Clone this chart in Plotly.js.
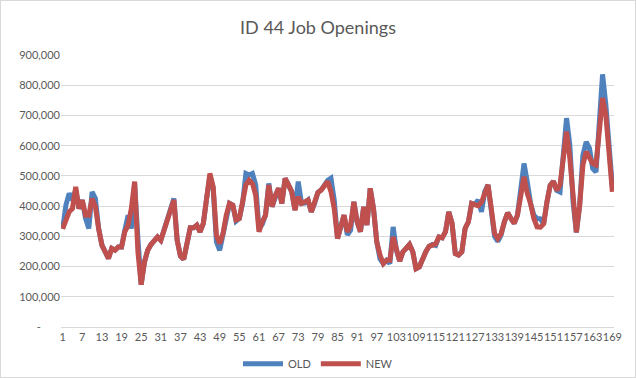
<!DOCTYPE html>
<html>
<head>
<meta charset="utf-8">
<script src="https://cdn.plot.ly/plotly-3.0.1.min.js"></script>
<style>
html,body{margin:0;padding:0;background:#fff;}
#chart{width:634px;height:376px;border:1px solid #d9d9d9;}
</style>
</head>
<body>
<div id="chart"></div>
<script>
const periods = Array.from({length: 169}, (_, i) => i + 1);

const newValues = [
325000,359000,381000,392000,464000,392000,420000,370000,370000,425000,
398000,326000,271000,249000,227000,260000,254000,265000,265000,315000,
337000,392000,481000,249000,140000,215000,254000,273000,287000,298000,
287000,320000,354000,398000,420000,287000,235000,224000,282000,328000,
328000,337000,315000,343000,425000,508000,464000,304000,276000,309000,
370000,409000,403000,354000,359000,409000,470000,486000,475000,436000,
315000,348000,370000,470000,398000,436000,459000,409000,492000,470000,
448000,387000,431000,409000,414000,420000,381000,409000,445000,453000,
470000,481000,448000,392000,293000,326000,370000,315000,337000,414000,
348000,315000,398000,337000,459000,392000,282000,238000,210000,221000,
221000,298000,254000,218000,249000,260000,273000,249000,193000,199000,
227000,249000,267000,273000,275000,298000,295000,315000,381000,343000,
243000,238000,249000,326000,348000,409000,406000,401000,412000,448000,
470000,392000,309000,293000,309000,348000,378000,359000,343000,370000,
436000,497000,442000,409000,359000,331000,330000,341000,413000,469000,
482000,452000,469000,558000,647000,558000,413000,313000,402000,536000,
580000,558000,541000,536000,636000,758000,702000,558000,447000
];

const oldValues = [
325000,403000,442000,420000,453000,392000,420000,359000,326000,447000,
425000,326000,271000,249000,227000,260000,254000,265000,265000,320000,
370000,326000,475000,293000,140000,215000,254000,273000,287000,298000,
287000,320000,354000,398000,425000,287000,235000,224000,282000,328000,
328000,337000,315000,343000,425000,500000,460000,282000,254000,309000,
370000,409000,403000,350000,359000,409000,508000,503000,508000,470000,
325000,340000,370000,475000,398000,436000,459000,409000,492000,470000,
448000,387000,481000,409000,410000,420000,381000,409000,445000,453000,
470000,485000,492000,420000,293000,326000,370000,305000,320000,414000,
348000,315000,398000,337000,459000,392000,282000,225000,210000,221000,
210000,331000,254000,218000,249000,260000,273000,249000,193000,199000,
227000,249000,267000,273000,270000,298000,295000,315000,381000,343000,
243000,238000,249000,326000,348000,409000,406000,420000,381000,448000,
470000,392000,300000,283000,305000,348000,378000,359000,343000,370000,
470000,541000,480000,409000,370000,359000,358000,341000,413000,469000,
482000,452000,447000,558000,691000,602000,413000,313000,402000,569000,
613000,591000,524000,513000,669000,836000,736000,602000,463000
];

const yTickVals = [0,100000,200000,300000,400000,500000,600000,700000,800000,900000];
const yTickText = ["-\u2007\u2007\u2007","100,000","200,000","300,000","400,000","500,000","600,000","700,000","800,000","900,000"];
const xTickVals = [1,7,13,19,25,31,37,43,49,55,61,67,73,79,85,91,97,103,109,115,121,127,133,139,145,151,157,163,169];

const traces = [
  {x: periods, y: oldValues, name: "OLD", type: "scatter", mode: "lines",
   line: {color: "#4f81bd", width: 5}},
  {x: periods, y: newValues, name: "NEW", type: "scatter", mode: "lines",
   line: {color: "#c0504d", width: 5}}
];

const layout = {
  width: 634, height: 376,
  margin: {l: 60, r: 21, t: 54, b: 50},
  paper_bgcolor: "#fff", plot_bgcolor: "#fff",
  font: {family: "Lato, 'Open Sans', sans-serif", color: "#595959", size: 11},
  title: {text: "ID 44 Job Openings", x: 0.5, xanchor: "center", y: 0.93, yanchor: "middle",
          font: {size: 18, color: "#595959", family: "Lato, sans-serif"}},
  xaxis: {range: [0.5, 169.5], tickvals: xTickVals, ticktext: xTickVals.map(String),
          showgrid: false, zeroline: false, showline: true, linecolor: "#d9d9d9", linewidth: 1,
          ticks: "", tickangle: 0, tickfont: {size: 11, color: "#595959"}, fixedrange: true,
          automargin: false},
  yaxis: {range: [0, 900000], tickvals: yTickVals, ticktext: yTickText,
          showgrid: true, gridcolor: "#d9d9d9", gridwidth: 1, zeroline: false, showline: false,
          ticks: "", ticklen: 0, tickfont: {size: 11, color: "#595959"}, fixedrange: true,
          automargin: false},
  showlegend: true,
  legend: {orientation: "h", x: 0.5, xanchor: "center", xref: "container",
           y: 0.035, yanchor: "middle", yref: "container",
           font: {size: 11, color: "#595959"}, itemwidth: 40},
};

Plotly.newPlot("chart", traces, layout, {displayModeBar: false, staticPlot: true});
</script>
</body>
</html>
